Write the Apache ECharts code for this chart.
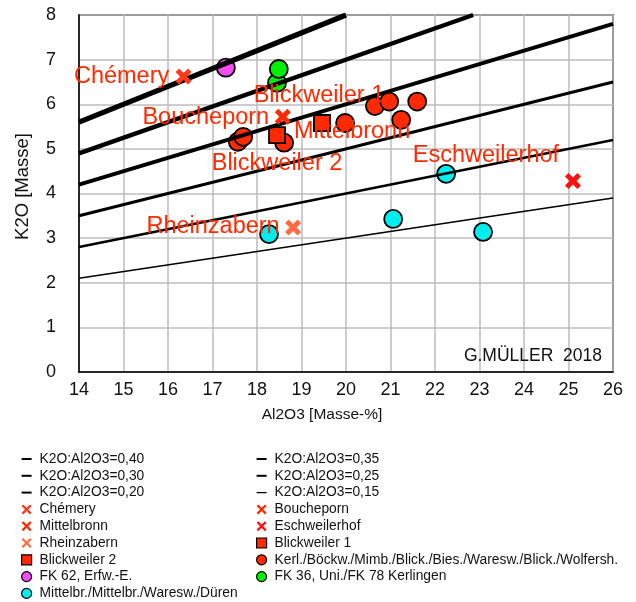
<!DOCTYPE html>
<html>
<head>
<meta charset="utf-8">
<script src="https://cdn.jsdelivr.net/npm/echarts@6/dist/echarts.min.js"></script>
<style>
  html, body { margin: 0; padding: 0; background: #fff; }
  #chart { width: 636px; height: 602px; }
</style>
</head>
<body>
<div id="chart"></div>
<script>
// Axis ranges and tick labels
const xTicks = [14, 15, 16, 17, 18, 19, 20, 21, 22, 23, 24, 25, 26];
const yTicks = [0, 1, 2, 3, 4, 5, 6, 7, 8];

// K2O:Al2O3 reference ratios and their line widths
const ratios = [0.40, 0.35, 0.30, 0.25, 0.20, 0.15];
const ratioNames = ['K2O:Al2O3=0,40', 'K2O:Al2O3=0,35', 'K2O:Al2O3=0,30',
                    'K2O:Al2O3=0,25', 'K2O:Al2O3=0,20', 'K2O:Al2O3=0,15'];
const ratioWidths = [5.2, 4.4, 3.8, 3.1, 2.4, 1.6];

// Samples: [Al2O3, K2O] in mass-%
const chemery = [[16.35, 6.62]];
const boucheporn = [[18.58, 5.72]];
const mittelbronn = [[19.98, 5.58]];
const eschweilerhof = [[25.10, 4.28]];
const rheinzabern = [[18.81, 3.24]];
const blickweiler1 = [[19.46, 5.58]];
const blickweiler2 = [[18.45, 5.31]];
const kerlingen = [[17.57, 5.16], [17.69, 5.27], [18.61, 5.14], [19.98, 5.58],
                   [20.65, 5.96], [20.97, 6.06], [21.60, 6.06], [21.24, 5.65]];
const fk62 = [[17.30, 6.82]];
const fk36 = [[18.45, 6.48], [18.49, 6.79]];
const duren = [[18.27, 3.09], [21.06, 3.43], [22.25, 4.44], [23.08, 3.14]];

const CROSS = 'path://M0,2.2 L2.2,0 L5,2.8 L7.8,0 L10,2.2 L7.2,5 L10,7.8 L7.8,10 L5,7.2 L2.2,10 L0,7.8 L2.8,5 Z';
const SMALL_CROSS = 'path://M0,1.6 L1.6,0 L5,3.4 L8.4,0 L10,1.6 L6.6,5 L10,8.4 L8.4,10 L5,6.6 L1.6,10 L0,8.4 L3.4,5 Z';
const DASH = 'path://M0,0 H10 V2 H0 Z';
const THIN_DASH = 'path://M0,0 H10 V1.3 H0 Z';
const labelRed = '#ff2a00';
const FONT = 'Liberation Sans, Arial, sans-serif';

// Ratio lines: K2O = ratio * Al2O3, from the left axis to the frame
function ratioLine(r) {
  const x0 = xTicks[0];
  const x1 = Math.min(xTicks[xTicks.length - 1], yTicks[yTicks.length - 1] / r);
  return [[x0, r * x0], [x1, r * x1]];
}

const series = [];
ratios.forEach((r, i) => {
  series.push({
    name: ratioNames[i], type: 'line', data: ratioLine(r),
    symbol: 'none', z: 4, silent: true,
    itemStyle: { color: '#000' },
    lineStyle: { color: '#000', width: ratioWidths[i] }
  });
});

function crosses(name, data, color, z) {
  return { name, type: 'scatter', data, symbol: CROSS, symbolSize: 16, z: z,
           itemStyle: { color, opacity: 1 } };
}
function dots(name, data, symbol, color, size, z) {
  return { name, type: 'scatter', data, symbol, symbolSize: size, z: z,
           itemStyle: { color, opacity: 1, borderColor: '#000', borderWidth: 1.8 } };
}

series.push(crosses('Chémery', chemery, '#ff3a1a', 5));
series.push(crosses('Boucheporn', boucheporn, '#ff2a00', 5));
series.push(crosses('Mittelbronn', mittelbronn, '#ff2a00', 1));
series.push(crosses('Eschweilerhof', eschweilerhof, '#ff1010', 5));
series.push(crosses('Rheinzabern', rheinzabern, '#ff6a40', 5));
series.push(dots('Blickweiler 1', blickweiler1, 'rect', '#ff2a00', 16, 3));
series.push(dots('Blickweiler 2', blickweiler2, 'rect', '#ff2a00', 16, 3));
series.push(dots('Kerl./Böckw./Mimb./Blick./Bies./Waresw./Blick./Wolfersh.', kerlingen, 'circle', '#ff2a00', 18, 2));
series.push(dots('FK 62, Erfw.-E.', fk62, 'circle', '#f24cf2', 18, 2));
series.push(dots('FK 36, Uni./FK 78 Kerlingen', fk36, 'circle', '#00ee00', 18, 2));
series.push(dots('Mittelbr./Mittelbr./Waresw./Düren', duren, 'circle', '#00eeee', 18, 2));

// Site names written next to their markers
function siteLabel(text, data, offset) {
  series.push({
    type: 'scatter', data, symbolSize: 1, z: 6, silent: true,
    itemStyle: { color: 'rgba(0,0,0,0)', opacity: 1 },
    label: {
      show: true, position: 'inside', offset, formatter: text, opacity: 1,
      color: labelRed, textBorderWidth: 0, fontSize: 23.5, fontFamily: FONT
    }
  });
}
siteLabel('Chémery', chemery, [-62, 0]);
siteLabel('Boucheporn', boucheporn, [-77, 1]);
siteLabel('Rheinzabern', rheinzabern, [-80, -1]);
siteLabel('Eschweilerhof', eschweilerhof, [-87, -25]);
siteLabel('Blickweiler 1', blickweiler1, [-3, -27]);
siteLabel('Blickweiler 2', blickweiler2, [0, 28]);
siteLabel('Mittelbronn', mittelbronn, [7, 9]);

const legendBase = {
  orient: 'vertical', itemWidth: 10, itemHeight: 10, itemGap: 0, padding: 0,
  height: 170, selectedMode: false,
  textStyle: { fontSize: 13.8, color: '#111', lineHeight: 16.8, padding: [0, 0, 0, 3],
               fontFamily: FONT },
  itemStyle: { borderWidth: 1.2 }
};
function lineItem(name, icon) {
  return { name, icon, itemStyle: { color: '#000' }, lineStyle: { width: 0, opacity: 0 } };
}
function iconItem(name, icon) { return { name, icon }; }

const option = {
  animation: false,
  backgroundColor: '#fff',
  grid: { left: 79, right: 23, top: 15, bottom: 230, show: true,
          borderColor: '#000', borderWidth: 1.5, backgroundColor: 'rgba(0,0,0,0)' },
  xAxis: {
    type: 'value', min: xTicks[0], max: xTicks[xTicks.length - 1], interval: 1,
    name: 'Al2O3 [Masse-%]', nameLocation: 'middle', nameGap: 35,
    nameTextStyle: { fontSize: 15.5, color: '#111', padding: [0, 48, 0, 0], fontFamily: FONT },
    axisLine: { lineStyle: { color: '#000', width: 1.5 } },
    axisTick: { show: false },
    axisLabel: { fontSize: 18, color: '#111', margin: 9, fontFamily: FONT },
    splitLine: { show: true, lineStyle: { color: '#bdbdbd', width: 1.5 } }
  },
  yAxis: {
    type: 'value', min: yTicks[0], max: yTicks[yTicks.length - 1], interval: 1,
    name: 'K2O [Masse]', nameLocation: 'middle', nameGap: 47,
    nameTextStyle: { fontSize: 18.5, color: '#111', padding: [0, 0, 0, 14], fontFamily: FONT },
    axisLine: { show: true, lineStyle: { color: '#000', width: 1.5 } },
    axisTick: { show: false },
    axisLabel: { fontSize: 18, color: '#111', margin: 23, fontFamily: FONT },
    splitLine: { show: true, lineStyle: { color: '#bdbdbd', width: 1.5 } }
  },
  legend: [
    Object.assign({}, legendBase, {
      left: 21, top: 450.6,
      data: [
        lineItem(ratioNames[0], DASH), lineItem(ratioNames[2], DASH), lineItem(ratioNames[4], DASH),
        iconItem('Chémery', SMALL_CROSS), iconItem('Mittelbronn', SMALL_CROSS),
        iconItem('Rheinzabern', SMALL_CROSS),
        iconItem('Blickweiler 2', 'rect'), iconItem('FK 62, Erfw.-E.', 'circle'),
        iconItem('Mittelbr./Mittelbr./Waresw./Düren', 'circle')
      ]
    }),
    Object.assign({}, legendBase, {
      left: 256, top: 450.6,
      data: [
        lineItem(ratioNames[1], DASH), lineItem(ratioNames[3], DASH), lineItem(ratioNames[5], THIN_DASH),
        iconItem('Boucheporn', SMALL_CROSS), iconItem('Eschweilerhof', SMALL_CROSS),
        iconItem('Blickweiler 1', 'rect'),
        iconItem('Kerl./Böckw./Mimb./Blick./Bies./Waresw./Blick./Wolfersh.', 'circle'),
        iconItem('FK 36, Uni./FK 78 Kerlingen', 'circle')
      ]
    })
  ],
  graphic: [{
    type: 'text', right: 34, top: 347, z: 10,
    style: { text: 'G.MÜLLER  2018', fill: '#111', font: '17.5px ' + FONT }
  }],
  series
};

const chart = echarts.init(document.getElementById('chart'), null, { renderer: 'canvas' });
chart.setOption(option);
</script>
</body>
</html>
